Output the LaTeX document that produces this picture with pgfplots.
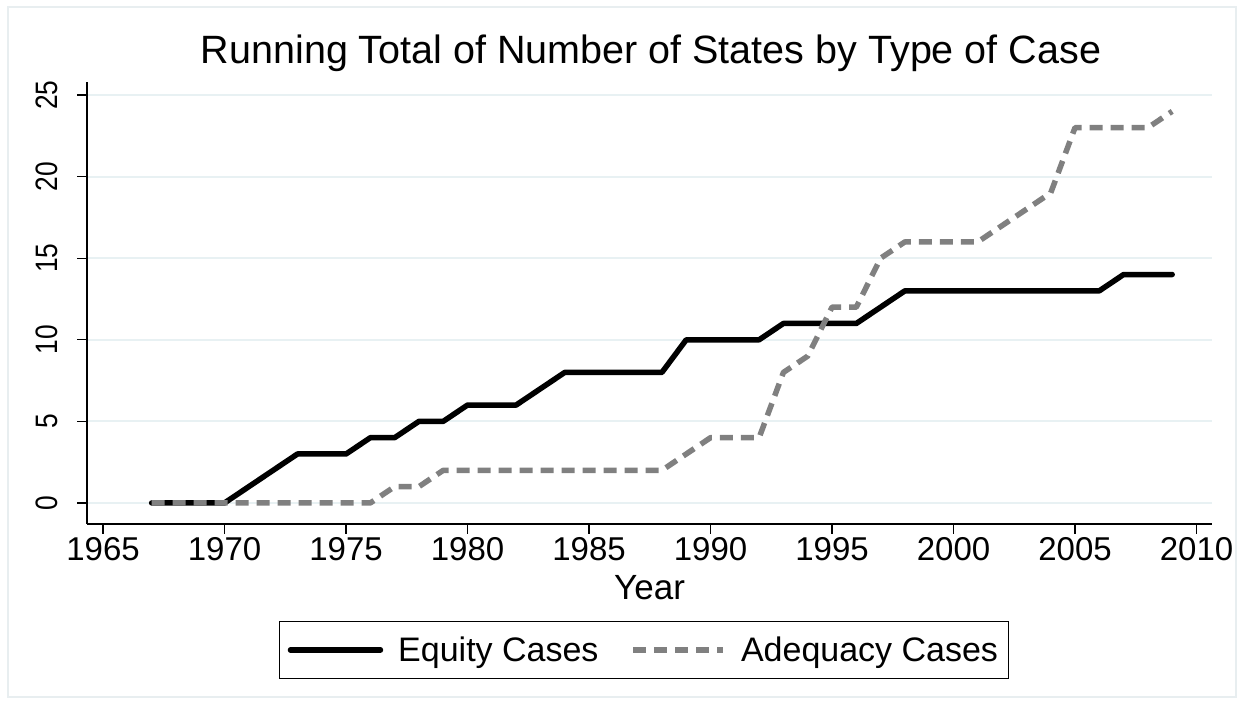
\documentclass[border=0pt]{standalone}
\usepackage{pgfplots}
\pgfplotsset{compat=1.18}
\usepackage{pgfplotstable}
\usepackage{fontspec}
\setmainfont{Liberation Sans}
\definecolor{gridc}{RGB}{232,241,243}
\definecolor{adeq}{RGB}{128,128,128}
\definecolor{framec}{RGB}{232,238,240}

\pgfplotstableread{
year equity adequacy
1967 0 0
1968 0 0
1969 0 0
1970 0 0
1971 1 0
1972 2 0
1973 3 0
1974 3 0
1975 3 0
1976 4 0
1977 4 1
1978 5 1
1979 5 2
1980 6 2
1981 6 2
1982 6 2
1983 7 2
1984 8 2
1985 8 2
1986 8 2
1987 8 2
1988 8 2
1989 10 3
1990 10 4
1991 10 4
1992 10 4
1993 11 8
1994 11 9
1995 11 12
1996 11 12
1997 12 15
1998 13 16
1999 13 16
2000 13 16
2001 13 16
2002 13 17
2003 13 18
2004 13 19
2005 13 23
2006 13 23
2007 14 23
2008 14 23
2009 14 24
}\datatable

\begin{document}
\begin{tikzpicture}[x=1bp,y=1bp]
\useasboundingbox (0,0) rectangle (1244,704);
\fill[white] (0,0) rectangle (1244,704);
\draw[framec, line width=1.2bp] (8,7) rectangle (1236,697);
\node[font=\fontsize{39.5bp}{46bp}\selectfont] at (651,651) {Running Total of Number of States by Type of Case};
\begin{axis}[
  at={(87bp,180bp)}, anchor=south west,
  scale only axis, width=1125bp, height=442bp,
  xmin=1964.34, xmax=2010.64, ymin=-1.29, ymax=25.8,
  axis x line*=bottom, axis y line*=left,
  axis line style={line width=1.2bp, black},
  xtick={1965,1970,...,2010}, ytick={0,5,...,25},
  tick align=outside, major tick length=10bp,
  tick style={line width=1.2bp, black},
  ymajorgrids, grid style={gridc, line width=1.8bp},
  /pgf/number format/assume math mode=true,
  /pgf/number format/set thousands separator={},
  xticklabel style={font=\fontsize{33bp}{38bp}\selectfont},
  yticklabel style={rotate=90, xscale=0.85, anchor=south, font=\fontsize{31bp}{36bp}\selectfont},
  yticklabel shift=16bp,
  xlabel={Year},
  xlabel style={font=\fontsize{35bp}{42bp}\selectfont, yshift=-8bp},
  legend style={at={(axis description cs:0.495,-0.285)}, anchor=center,
    draw=black, line width=1bp, font=\fontsize{34bp}{40bp}\selectfont,
    /tikz/every odd column/.append style={column sep=13bp},
    /tikz/every even column/.append style={column sep=30bp},
    inner xsep=8bp, inner ysep=13bp},
  legend columns=2,
  legend image code/.code={\draw[#1] (0bp,0bp) -- (90bp,0bp);},
]
\addplot[black, line width=5.5bp, line join=round, line cap=round] table[x=year, y=equity] {\datatable};
\addlegendentry{Equity Cases}
\addplot[adeq, line width=5.5bp, line join=round, dash pattern=on 13bp off 8bp] table[x=year, y=adequacy] {\datatable};
\addlegendentry{Adequacy Cases\hspace{18bp}}
\end{axis}
\end{tikzpicture}
\end{document}
